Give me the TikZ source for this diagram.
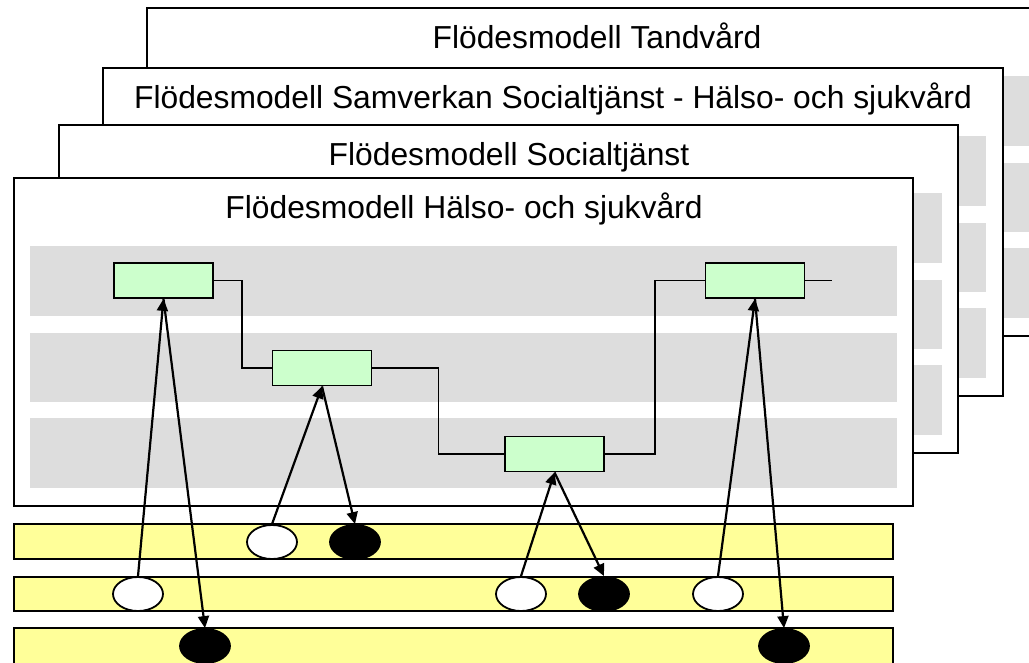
\documentclass[tikz,border=0pt]{standalone}
\usepackage{fontspec}
\setmainfont{Liberation Sans}
\usetikzlibrary{arrows.meta,shapes.geometric}
\definecolor{bandgray}{HTML}{DDDDDD}
\definecolor{boxgreen}{HTML}{CCFFCC}
\definecolor{bandyellow}{HTML}{FFFF99}
\tikzset{
  panelbox/.style={draw=black,fill=white,line width=1.8pt},
  graybar/.style={fill=bandgray,draw=none},
  titletext/.style={anchor=base,inner sep=0pt,font=\fontsize{31.8}{36}\selectfont},
  stepbox/.style={draw=black,fill=boxgreen,line width=1.8pt,minimum width=99pt,minimum height=35pt,inner sep=0pt},
  yellowbar/.style={draw=black,fill=bandyellow,line width=1.8pt},
  whiteev/.style={ellipse,draw=black,fill=white,line width=1.8pt,minimum width=50pt,minimum height=34pt,inner sep=0pt},
  blackev/.style={ellipse,draw=black,fill=black,line width=1.8pt,minimum width=50pt,minimum height=34pt,inner sep=0pt},
  flowline/.style={draw=black,line width=1.6pt},
  linkarrow/.style={draw=black,line width=2.2pt,-{Triangle[length=12pt,width=11pt]}},
}
\newcommand{\flowpanel}[4]{% left, top, right, title
  \path[panelbox] (#1,#2) rectangle (#3,#2+328);
  \path[graybar] (#1+16,#2+68) rectangle (#1+883,#2+138);
  \path[graybar] (#1+16,#2+155) rectangle (#1+883,#2+224);
  \path[graybar] (#1+16,#2+240) rectangle (#1+883,#2+310);
  \node[titletext] at ({(#1+#1+900)/2},#2+40) {#4};
}
\begin{document}
\begin{tikzpicture}[x=1pt,y=-1pt]
\useasboundingbox (0,0) rectangle (1029,662);
\clip (0,0) rectangle (1029,662);
\fill[white] (0,0) rectangle (1029,662);

% stacked panels (back to front)
\flowpanel{147}{8}{1060}{Flödesmodell Tandvård}
\flowpanel{103}{68}{1003}{Flödesmodell Samverkan Socialtjänst - Hälso- och sjukvård}
\flowpanel{59}{125}{958}{Flödesmodell Socialtjänst}
\flowpanel{14}{178}{913}{Flödesmodell Hälso- och sjukvård}

% process boxes
\node[stepbox] (b1) at (163.5,280.5) {};
\node[stepbox] (b2) at (322,368) {};
\node[stepbox] (b3) at (554.5,454) {};
\node[stepbox] (b4) at (755,280.5) {};
\coordinate (bend) at (832,280.5);

\draw[flowline] (b1.east) -- ++(28,0) |- (b2.west);
\draw[flowline] (b2.east) -- ++(66,0) |- (b3.west);
\draw[flowline] (b3.east) -- ++(50,0) |- (b4.west);
\draw[flowline] (b4.east) -- (bend);

% yellow bars
\path[yellowbar] (14,524) rectangle (893,559);
\path[yellowbar] (14,577) rectangle (893,611);
\path[yellowbar] (14,628) rectangle (893,664);

% events
\node[whiteev] (w1) at (272,542) {};
\node[blackev] (k1) at (355,542) {};
\node[whiteev] (w2) at (138,594) {};
\node[whiteev] (w3) at (521,594) {};
\node[blackev] (k2) at (604,594) {};
\node[whiteev] (w4) at (718,594) {};
\node[blackev] (k3) at (205,646) {};
\node[blackev] (k4) at (784,646) {};

% arrows
\draw[linkarrow] (w2.north) -- (b1.south);
\draw[linkarrow] (b1.south) -- (k3.north);
\draw[linkarrow] (w1.north) -- (b2.south);
\draw[linkarrow] (b2.south) -- (k1.north);
\draw[linkarrow] (w3.north) -- (b3.south);
\draw[linkarrow] (b3.south) -- (k2.north);
\draw[linkarrow] (w4.north) -- (b4.south);
\draw[linkarrow] (b4.south) -- (k4.north);
\end{tikzpicture}
\end{document}
